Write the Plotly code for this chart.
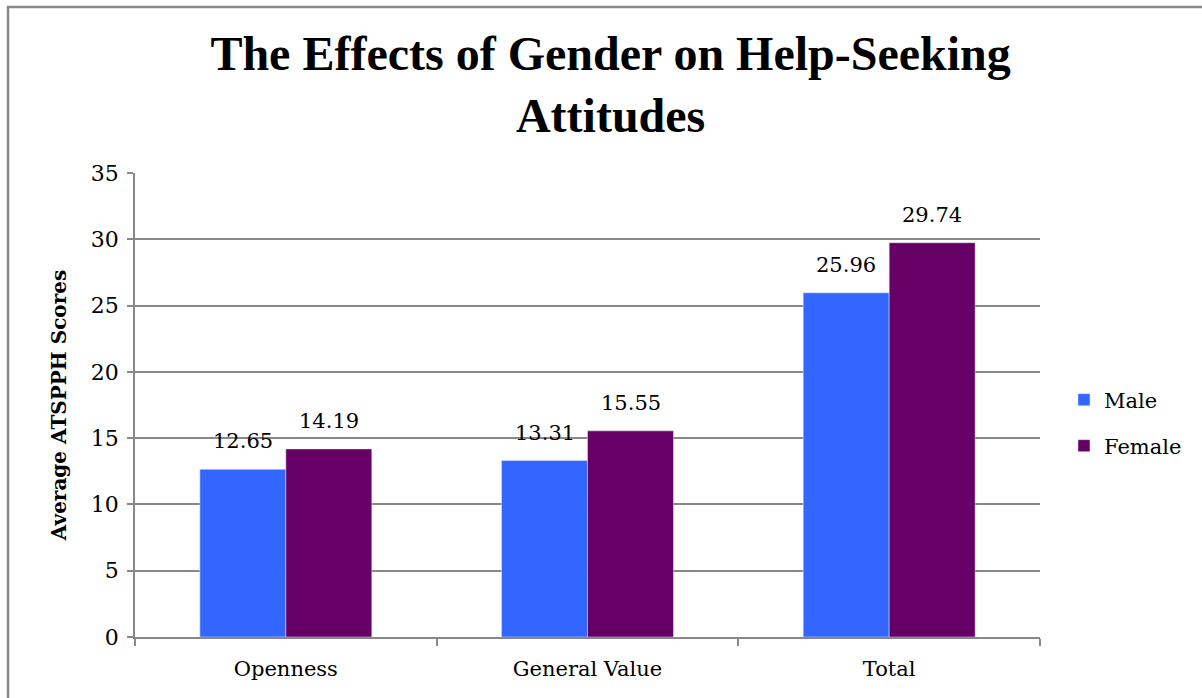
import plotly.graph_objects as go

categories = ["Openness", "General Value", "Total"]
male = [12.65, 13.31, 25.96]
female = [14.19, 15.55, 29.74]
y_ticks = [0, 5, 10, 15, 20, 25, 30, 35]

FONT = "DejaVu Serif"
TFONT = "Liberation Serif"
GRID = "#888888"

fig = go.Figure()
fig.add_trace(go.Bar(
    x=categories, y=male, name="Male", marker_color="#3366FF",
    legend="legend", showlegend=True,
))
fig.add_trace(go.Bar(
    x=categories, y=female, name="Female", marker_color="#660066",
    legend="legend2", showlegend=True,
))

# value labels above each bar (offset to the bar's slot within the group)
labels = []
for vals, shift in ((male, -43), (female, 43)):
    for c, v in zip(categories, vals):
        labels.append(dict(
            x=c, y=v, xref="x", yref="y", text=f"{v:.2f}", showarrow=False,
            xshift=shift, yshift=28, yanchor="middle", xanchor="center",
            font=dict(family=FONT, size=21, color="black"),
        ))

fig.update_layout(
    width=1202, height=698,
    margin=dict(l=135, r=162, t=173, b=61),
    paper_bgcolor="white", plot_bgcolor="white",
    barmode="group", bargap=0.43, bargroupgap=0,
    showlegend=True,
    font=dict(family=FONT, size=21, color="black"),
    title=dict(
        text="<b>The Effects of Gender on Help-Seeking<br>Attitudes</b>",
        x=0.508, xref="container", xanchor="center",
        y=1 - 70 / 698, yref="container", yanchor="middle",
        font=dict(family=TFONT, size=48, color="black"),
    ),
    annotations=labels,
    xaxis=dict(
        showline=True, linecolor=GRID, linewidth=1.5,
        ticks="outside", tickson="boundaries", ticklen=7, tickcolor=GRID, tickwidth=1.5,
        tickfont=dict(family=FONT, size=21), showgrid=False, ticklabelstandoff=12,
    ),
    yaxis=dict(
        range=[0, 35], tickvals=y_ticks, showline=True, linecolor=GRID, linewidth=1.5,
        ticks="outside", ticklen=6, tickcolor=GRID, tickwidth=1.5,
        showgrid=True, gridcolor=GRID, gridwidth=1.5, zeroline=False,
        tickfont=dict(family=FONT, size=22), ticklabelstandoff=4,
        title=dict(text="<b>Average ATSPPH Scores</b>", font=dict(family=FONT, size=20), standoff=19),
    ),
    legend=dict(x=1.0265, y=(637 - 400) / 464, xanchor="left", yanchor="middle",
                font=dict(family=FONT, size=21), bgcolor="rgba(0,0,0,0)"),
    legend2=dict(x=1.0265, y=(637 - 446) / 464, xanchor="left", yanchor="middle",
                 font=dict(family=FONT, size=21), bgcolor="rgba(0,0,0,0)"),
    shapes=[dict(type="rect", xref="paper", yref="paper",
                 x0=-0.1403, x1=1.5, y0=-0.5, y1=1.3578,
                 line=dict(color=GRID, width=2.5), fillcolor="rgba(0,0,0,0)", layer="below")],
)

fig.write_html("out.html")
